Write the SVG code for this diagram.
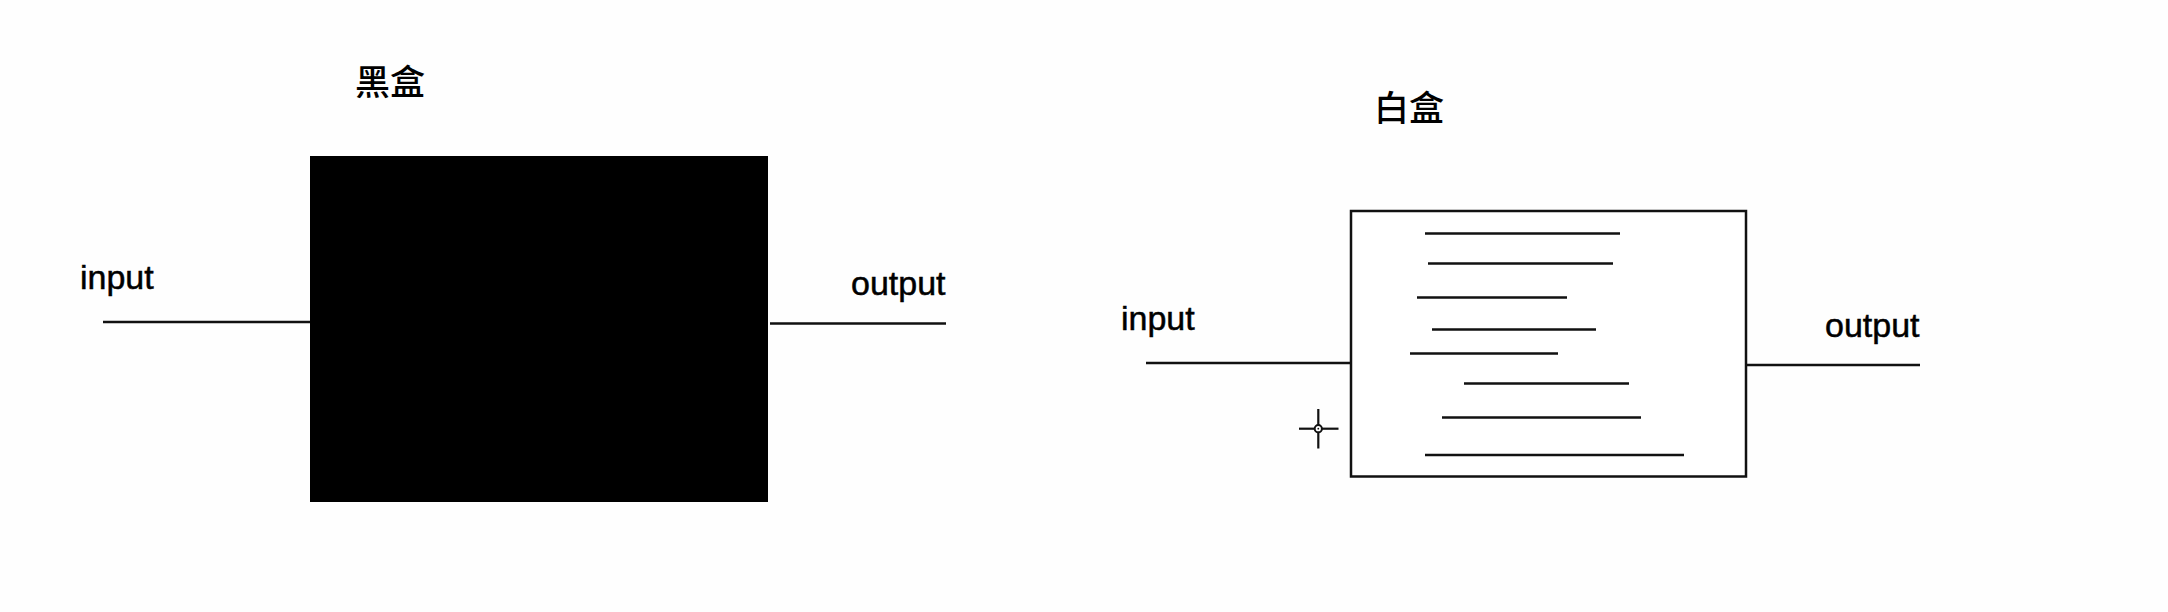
<svg xmlns="http://www.w3.org/2000/svg" width="2168" height="612" viewBox="0 0 2168 612">
  <style>
    .lbl { font-family: "Liberation Sans", Arial, sans-serif; font-size: 34px; fill: #000; stroke: #000; stroke-width: 0.5; }
    .title { font-family: "Noto Sans CJK SC", "Noto Sans", sans-serif; font-size: 35px; font-weight: 500; fill: #000; }
    .wire { stroke: #111; stroke-width: 2.5; fill: none; }
    .stripe { stroke: #111; stroke-width: 2.5; fill: none; }
  </style>
  <rect x="0" y="0" width="2168" height="612" fill="#fefefe"/>

  <g id="black-box-title"><text class="title" x="355" y="95">黑盒</text></g>
  <g id="black-box"><rect x="310" y="156" width="458" height="346" fill="#000"/></g>
  <g id="black-input-label"><text class="lbl" x="80" y="289">input</text></g>
  <g id="black-output-label"><text class="lbl" x="851" y="295">output</text></g>

  <g id="white-box-title"><text class="title" x="1374" y="121">白盒</text></g>
  <g id="white-box">
    <rect x="1351" y="211" width="395" height="265.5" fill="#fff" stroke="#111" stroke-width="2.5"/>
    <line class="stripe" x1="1425" y1="233.5" x2="1620" y2="233.5"/>
    <line class="stripe" x1="1428" y1="263.5" x2="1613" y2="263.5"/>
    <line class="stripe" x1="1417" y1="297.5" x2="1567" y2="297.5"/>
    <line class="stripe" x1="1432" y1="329.5" x2="1596" y2="329.5"/>
    <line class="stripe" x1="1410" y1="353.5" x2="1558" y2="353.5"/>
    <line class="stripe" x1="1464" y1="383.5" x2="1629" y2="383.5"/>
    <line class="stripe" x1="1442" y1="417.5" x2="1641" y2="417.5"/>
    <line class="stripe" x1="1425" y1="455" x2="1684" y2="455"/>
  </g>
  <g id="white-input-label"><text class="lbl" x="1121" y="330">input</text></g>
  <g id="white-output-label"><text class="lbl" x="1825" y="337">output</text></g>

  <g id="connectors">
    <line class="wire" x1="103" y1="322" x2="310" y2="322"/>
    <line class="wire" x1="770" y1="323.5" x2="946" y2="323.5"/>
    <line class="wire" x1="1146" y1="363" x2="1351" y2="363"/>
    <line class="wire" x1="1746" y1="365" x2="1920" y2="365"/>
  </g>

  <g id="cursor">
    <line x1="1299" y1="428.7" x2="1314.5" y2="428.7" stroke="#111" stroke-width="2.2"/>
    <line x1="1322" y1="428.7" x2="1338.5" y2="428.7" stroke="#111" stroke-width="2.2"/>
    <line x1="1318.3" y1="409" x2="1318.3" y2="425" stroke="#111" stroke-width="2.2"/>
    <line x1="1318.3" y1="432.5" x2="1318.3" y2="448.5" stroke="#111" stroke-width="2.2"/>
    <circle cx="1318.3" cy="428.7" r="3.6" fill="#fff" stroke="#111" stroke-width="2"/>
    <circle cx="1318.3" cy="428.7" r="0.9" fill="#111"/>
  </g>
</svg>
